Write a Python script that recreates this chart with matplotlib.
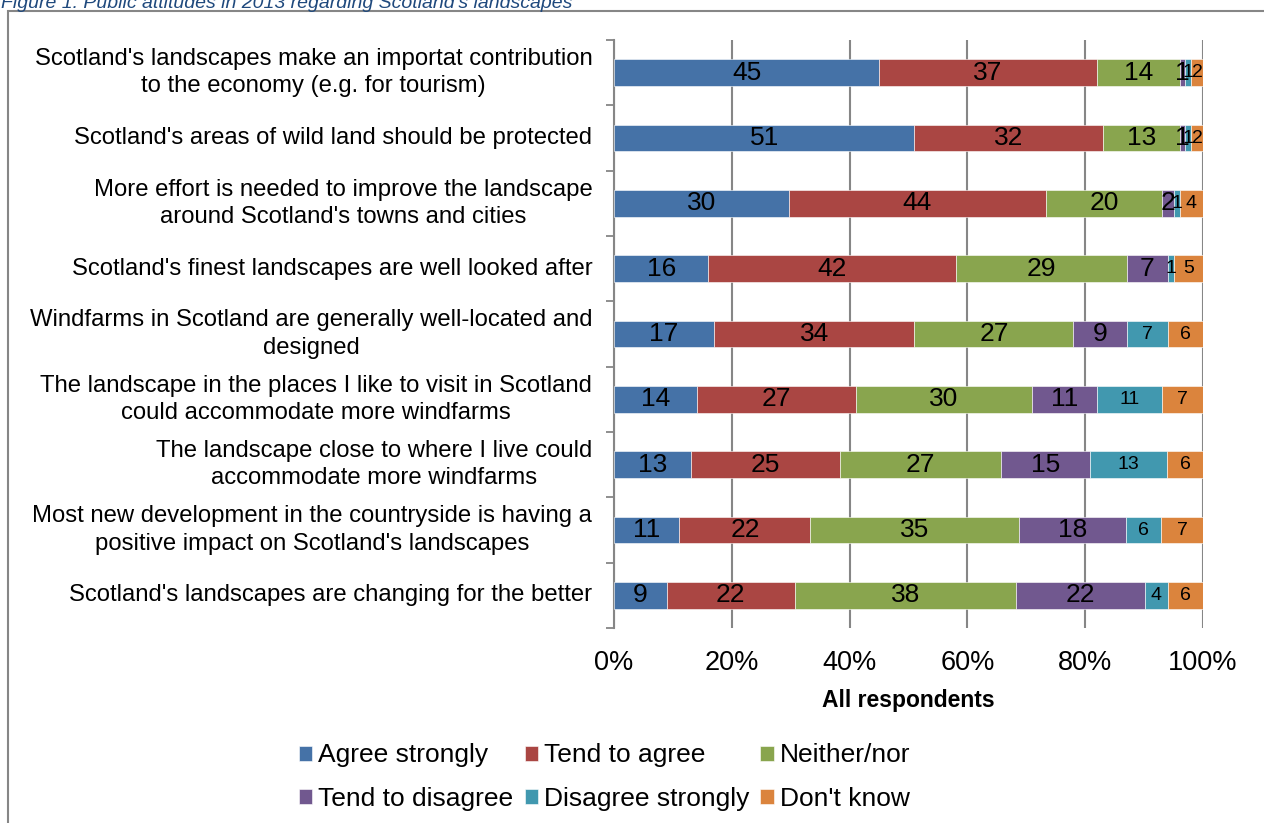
import matplotlib.pyplot as plt
import matplotlib.transforms as mtransforms
import numpy as np

plt.rcParams['font.family'] = ['Liberation Sans', 'DejaVu Sans']

statements = [
    "Scotland's landscapes make an importat contribution\nto the economy (e.g. for tourism)",
    "Scotland's areas of wild land should be protected",
    "More effort is needed to improve the landscape\naround Scotland's towns and cities",
    "Scotland's finest landscapes are well looked after",
    "Windfarms in Scotland are generally well-located and\ndesigned",
    "The landscape in the places I like to visit in Scotland\ncould accommodate more windfarms",
    "The landscape close to where I live could\naccommodate more windfarms",
    "Most new development in the countryside is having a\npositive impact on Scotland's landscapes",
    "Scotland's landscapes are changing for the better",
]
series = ["Agree strongly", "Tend to agree", "Neither/nor",
          "Tend to disagree", "Disagree strongly", "Don't know"]
agree_strongly = [45, 51, 30, 16, 17, 14, 13, 11, 9]
tend_agree = [37, 32, 44, 42, 34, 27, 25, 22, 22]
neither = [14, 13, 20, 29, 27, 30, 27, 35, 38]
tend_disagree = [1, 1, 2, 7, 9, 11, 15, 18, 22]
disagree_strongly = [1, 1, 1, 1, 7, 11, 13, 6, 4]
dont_know = [2, 2, 4, 5, 6, 7, 6, 7, 6]
colors = ["#4572A7", "#AA4643", "#89A54E", "#71588F", "#4198AF", "#DB843D"]

vals = np.array([agree_strongly, tend_agree, neither,
                 tend_disagree, disagree_strongly, dont_know], dtype=float)
pct = vals / vals.sum(axis=0) * 100

fig = plt.figure(figsize=(12.64, 8.23), dpi=100)
ax = fig.add_axes([0.4858, 0.2369, 0.4660, 0.7145])

y = np.arange(len(statements))
left = np.zeros(len(statements))
handles = []
for i, name in enumerate(series):
    h = ax.barh(y, pct[i], left=left, height=0.41, color=colors[i],
                edgecolor='white', linewidth=0.4, label=name, zorder=3)
    handles.append(h)
    fs = 19 if i < 4 else 14
    for j in range(len(statements)):
        ax.text(left[j] + pct[i][j] / 2, y[j], "%d" % vals[i][j],
                ha='center', va='center', fontsize=fs, color='black', zorder=4)
    left += pct[i]

ax.set_xlim(0, 100)
ax.set_ylim(len(statements) - 0.5, -0.5)
ax.set_xticks(np.arange(0, 101, 20))
ax.set_xticklabels(["%d%%" % v for v in range(0, 101, 20)], fontsize=19.5)
ax.set_yticks(y)
ax.set_yticklabels([])
ax.set_yticks(np.arange(-0.5, len(statements), 1), minor=True)
ax.tick_params(axis='y', which='major', length=0)
ax.tick_params(axis='y', which='minor', length=6, color='#868686', width=1.3)
ax.tick_params(axis='x', length=0, pad=16)

# category labels, right aligned with centred lines like Excel
trans = mtransforms.blended_transform_factory(ax.transAxes, ax.transData)
for j, s in enumerate(statements):
    ax.text(-0.037, y[j], s, transform=trans, ha='right', va='center',
            multialignment='center', fontsize=17.2, linespacing=1.33)

ax.grid(axis='x', color='#868686', linewidth=1.5, zorder=0)
for s in ['top', 'right', 'bottom']:
    ax.spines[s].set_visible(False)
ax.spines['left'].set_color('#868686')
ax.spines['left'].set_linewidth(1.5)
ax.set_xlabel("All respondents", fontsize=16.5, fontweight='bold', labelpad=9)

order = [0, 3, 1, 4, 2, 5]
ax.legend([handles[k] for k in order], [series[k] for k in order],
          loc='center', bbox_to_anchor=(-0.016, -0.254), ncol=3,
          frameon=False, fontsize=19, handlelength=0.5, handleheight=0.5,
          handletextpad=0.23, columnspacing=0.42, labelspacing=0.75,
          borderaxespad=0, borderpad=0)

fig.text(0.001, 1 - 8 / 823, "Figure 1: Public attitudes in 2013 regarding Scotland's landscapes",
         fontsize=14, style='italic', color='#1F497D', va='baseline')
frame = plt.Rectangle((0.0065, -0.1), 1.2, 1.0865, transform=fig.transFigure,
                      fill=False, edgecolor='#868686', linewidth=1.5)
fig.add_artist(frame)

fig.savefig("out.png", dpi=100)
